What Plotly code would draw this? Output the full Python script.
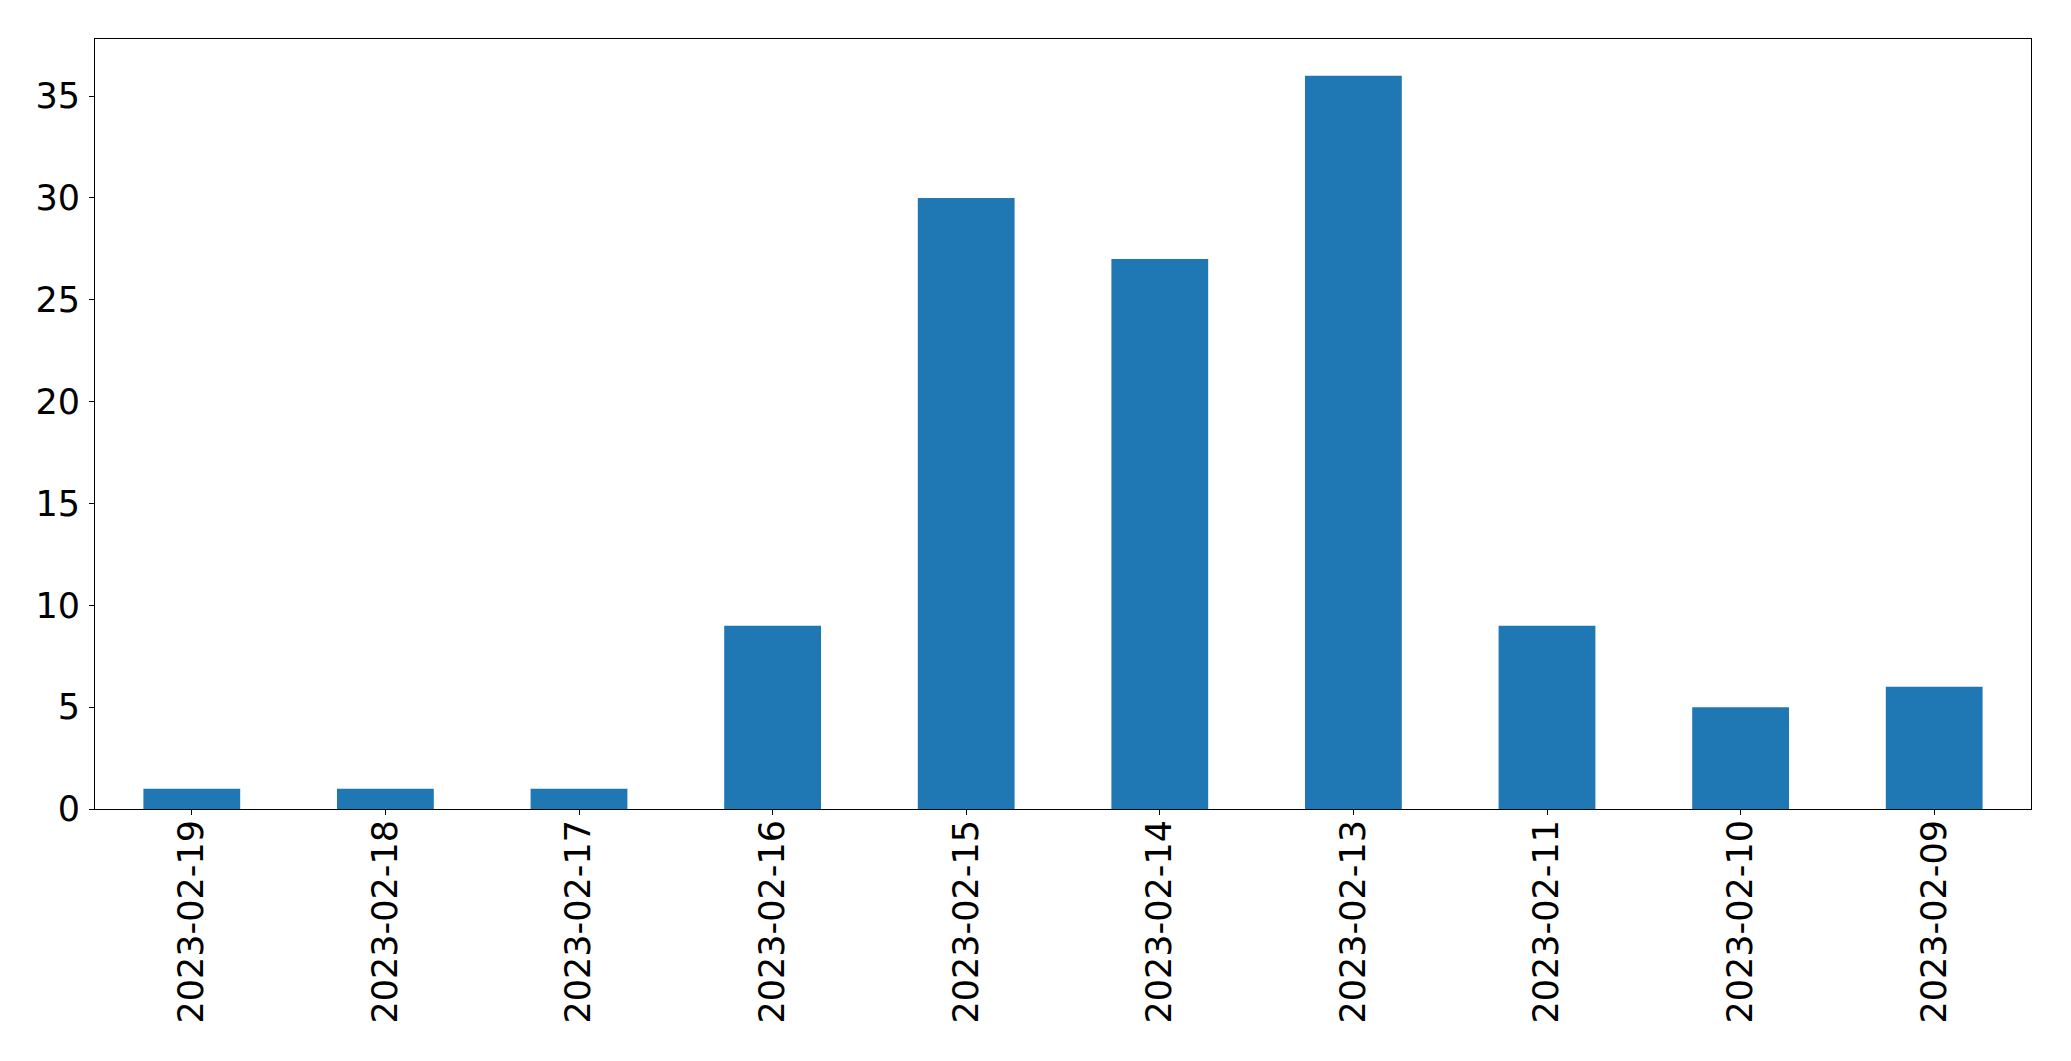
import plotly.graph_objects as go

dates = ["2023-02-19", "2023-02-18", "2023-02-17", "2023-02-16", "2023-02-15",
         "2023-02-14", "2023-02-13", "2023-02-11", "2023-02-10", "2023-02-09"]
counts = [1, 1, 1, 9, 30, 27, 36, 9, 5, 6]
y_ticks = [0, 5, 10, 15, 20, 25, 30, 35]

fig = go.Figure(go.Bar(x=dates, y=counts, marker_color="#1f77b4",
                       marker_line_width=0, width=0.5))

axis_common = dict(showline=True, linecolor="black", linewidth=1.1, mirror=True,
                   ticks="outside", ticklen=5, tickwidth=1.1, tickcolor="black",
                   showgrid=False, zeroline=False,
                   tickfont=dict(family="DejaVu Sans", size=35, color="black"))

fig.update_xaxes(type="category", range=[-0.5, 9.5], tickangle=-90,
                 ticklabelstandoff=-9, automargin=False, **axis_common)
fig.update_yaxes(range=[0, 37.8], tickvals=y_ticks, ticklabelstandoff=2,
                 automargin=False, **axis_common)

# page body has an 8px default margin; compensate so the plot area lands in place
fig.update_layout(width=2063, height=1053, plot_bgcolor="white", paper_bgcolor="white",
                  margin=dict(l=87, r=40, t=31, b=252), showlegend=False,
                  bargap=0.5)

fig.write_html("out.html")
